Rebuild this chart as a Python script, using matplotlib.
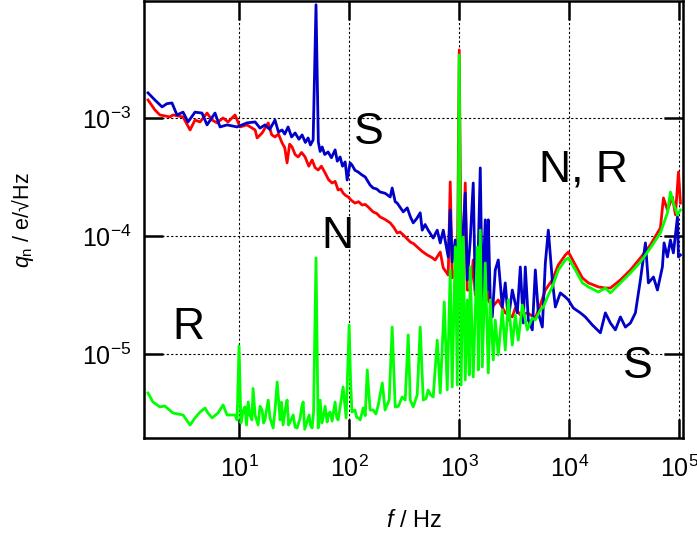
import matplotlib
matplotlib.use("Agg")
import matplotlib.pyplot as plt
from matplotlib import rcParams
from matplotlib.ticker import LogLocator, NullLocator

# S: blue trace
s_freq = [1.49, 1.72, 2.0, 2.21, 2.46, 2.73, 3.10, 3.44, 3.98, 4.61, 5.12, 6.05, 6.72, 7.78,
          9.6, 11.8, 14.0, 15.5, 17.2, 19.0, 21.2, 22.8, 24.6, 26.0, 27.9, 30.0, 32.3, 35.0,
          37.4, 40.0, 42.4, 44.5, 47.1, 50, 52.5, 54.5, 56.9, 60.0, 64.4, 69.0, 74.6, 78.0,
          82.8, 87.0, 92, 95.9, 102, 106, 113, 121, 130, 140, 155, 165, 178, 191, 212, 236,
          246, 262, 273, 290, 310, 337, 360, 382, 410, 442, 461, 490, 522, 580, 631, 672,
          716, 794, 828, 863, 920, 960, 1000, 1021, 1087, 1134, 1183, 1259, 1340, 1397,
          1489, 1552, 1620, 1723, 1798, 1836, 1914, 1995, 2124, 2262, 2460, 2618, 2787,
          3033, 3367, 3586, 3817, 3981, 4240, 4610, 4910, 5224, 5683, 6053, 6442, 7000,
          7462, 8280, 9200, 9795, 10870, 12590, 13970, 16180, 19140, 21240, 23590, 26180,
          29090, 32280, 35890, 39810, 44190, 49090, 52240, 58080, 63100, 70000, 72500,
          77800, 82800, 88100, 95900, 97950, 102100]
s_q = [1.63e-3, 1.42e-3, 1.24e-3, 1.32e-3, 1.34e-3, 1.06e-3, 1.12e-3, 9.25e-4, 1.12e-3,
       1.10e-3, 8.73e-4, 1.10e-3, 8.39e-4, 8.73e-4, 8.39e-4, 9.08e-4, 9.25e-4, 8.2e-4,
       8.73e-4, 8.0e-4, 9.6e-4, 7.6e-4, 7.91e-4, 7.3e-4, 8.39e-4, 6.9e-4, 7.46e-4, 6.6e-4,
       7.18e-4, 6.2e-4, 6.77e-4, 5.9e-4, 6.52e-4, 9.1e-3, 6.26e-4, 5.2e-4, 5.68e-4,
       4.9e-4, 5.15e-4, 4.6e-4, 5.36e-4, 4.3e-4, 4.67e-4, 3.9e-4, 4.24e-4, 2.98e-4,
       4.16e-4, 4.0e-4, 3.6e-4, 3.48e-4, 3.3e-4, 3.16e-4, 2.70e-4, 2.55e-4, 2.5e-4,
       2.36e-4, 2.3e-4, 2.14e-4, 2.55e-4, 1.95e-4, 1.90e-4, 1.75e-4, 1.60e-4, 1.73e-4,
       1.45e-4, 1.29e-4, 1.40e-4, 1.57e-4, 1.12e-4, 1.25e-4, 1.12e-4, 9.6e-5, 1.12e-4,
       8.73e-5, 1.12e-4, 6.64e-5, 1.66e-4, 6.02e-5, 9.25e-5, 4.24e-5, 7.6e-5, 3.48e-5,
       1.12e-4, 2.31e-4, 4.24e-5, 9.25e-5, 2.81e-4, 3.48e-5, 7.6e-5, 3.77e-4, 2.87e-5,
       1.37e-4, 3.48e-5, 1.37e-4, 2.87e-5, 2.06e-5, 5.15e-5, 6.26e-5, 2.50e-5, 4.0e-5,
       1.94e-5, 3.48e-5, 2.23e-5, 5.46e-5, 1.83e-5, 5.46e-5, 1.94e-5, 1.60e-5, 5.15e-5,
       2.23e-5, 1.69e-5, 5.90e-5, 1.12e-4, 4.24e-5, 2.50e-5, 3.29e-5, 3.04e-5, 2.87e-5,
       2.45e-5, 2.23e-5, 2.06e-5, 1.76e-5, 1.51e-5, 2.23e-5, 1.83e-5, 1.60e-5, 2.06e-5,
       1.69e-5, 1.83e-5, 2.23e-5, 4.24e-5, 8.73e-5, 4.0e-5, 4.49e-5, 3.48e-5, 5.46e-5,
       8.73e-5, 6.64e-5, 9.25e-5, 7.18e-5, 1.45e-4, 6.64e-5, 6.9e-5]

# N: red trace
n_freq = [1.49, 1.72, 1.91, 2.36, 2.51, 3.10, 3.59, 3.98, 4.42, 5.12, 5.69, 6.31, 7.16,
          7.94, 9.2, 10.2, 11.8, 14.0, 14.6, 16.2, 18.4, 19.8, 21.2, 22.8, 24.6, 26.0,
          27.3, 28.8, 30.3, 32.3, 34.4, 37.0, 39.8, 43.0, 46.1, 49.0, 52.3, 56.0, 60.5,
          65.0, 70, 74.6, 79.4, 84.0, 88.1, 93.0, 98, 105, 113, 122, 131, 140, 149, 165,
          178, 191, 212, 236, 255, 273, 290, 310, 335, 359, 385, 415, 460, 512, 560, 605,
          672, 716, 794, 828, 863, 920, 960, 1000, 1045, 1087, 1134, 1183, 1259, 1340,
          1397, 1552, 1652, 1723, 1836, 1995, 2262, 2618, 3033, 3228, 3586, 4150, 4910,
          5445, 6053, 7000, 7943, 9200, 9795, 11340, 13130, 14890, 18360, 21240, 23590,
          29090, 35890, 44190, 54450, 67170, 71580, 77800, 86300, 92000, 97950, 102100]
n_q = [1.42e-3, 1.17e-3, 1.06e-3, 1.02e-3, 1.06e-3, 1.02e-3, 7.91e-4, 9.6e-4, 9.25e-4,
       1.10e-3, 9.6e-4, 9.08e-4, 1.0e-3, 9.25e-4, 1.06e-3, 8.39e-4, 8.73e-4, 7.91e-4,
       6.77e-4, 7.46e-4, 9.08e-4, 7.2e-4, 6.90e-4, 7.3e-4, 6.14e-4, 5.6e-4, 4.16e-4,
       6.0e-4, 5.68e-4, 4.9e-4, 4.67e-4, 5.1e-4, 4.67e-4, 3.9e-4, 4.41e-4, 3.8e-4,
       3.62e-4, 3.9e-4, 3.42e-4, 3.0e-4, 2.81e-4, 2.9e-4, 2.45e-4, 2.5e-4, 2.31e-4,
       2.2e-4, 2.14e-4, 2.0e-4, 1.90e-4, 1.95e-4, 1.83e-4, 1.85e-4, 1.76e-4, 1.60e-4,
       1.55e-4, 1.45e-4, 1.38e-4, 1.29e-4, 1.18e-4, 1.06e-4, 1.08e-4, 1.02e-4, 9.5e-5,
       8.89e-5, 8.6e-5, 8.07e-5, 7.4e-5, 6.90e-5, 6.6e-5, 6.26e-5, 7.31e-5, 5.36e-5,
       4.67e-5, 2.87e-4, 4.41e-5, 5.15e-5, 3.85e-5, 3.77e-3, 3.85e-5, 7.6e-5, 2.81e-4,
       3.48e-5, 3.48e-5, 6.26e-5, 3.16e-5, 3.04e-5, 5.68e-5, 5.15e-5, 2.87e-5, 2.50e-5,
       2.87e-5, 2.23e-5, 2.06e-5, 2.45e-5, 2.14e-5, 2.23e-5, 2.02e-5, 2.60e-5, 3.48e-5,
       4.24e-5, 5.68e-5, 6.90e-5, 7.31e-5, 5.68e-5, 4.41e-5, 4.0e-5, 3.70e-5, 3.62e-5,
       3.62e-5, 4.24e-5, 5.15e-5, 6.51e-5, 8.39e-5, 1.17e-4, 2.10e-4, 1.66e-4, 2.14e-4,
       1.51e-4, 3.48e-4, 1.90e-4]

# R: green trace
r_freq = [1.49, 1.65, 1.91, 2.12, 2.51, 3.10, 3.59, 3.98, 4.42, 4.91, 5.22, 5.69, 6.44,
          7.16, 7.78, 9.2, 9.6, 10, 10.4, 10.9, 11.3, 11.7, 12.1, 12.6, 13.1, 13.4, 14.0,
          14.9, 15.5, 16.2, 16.7, 17.2, 18.4, 19.1, 20.4, 21.2, 22.2, 23.6, 24.3, 25.1,
          26.2, 27.3, 28.2, 29.1, 31.0, 32.3, 33.7, 35.9, 37.0, 38.2, 39.5, 40.6, 43.3,
          44.5, 46.1, 47.5, 50, 52.3, 54.5, 56.5, 58.1, 60.5, 63.1, 65.0, 67.2, 70.0,
          74.6, 77.0, 79.4, 83.0, 88.1, 93.9, 100, 103, 106, 113, 117, 121, 126, 134, 140,
          146, 155, 165, 175, 184, 200, 212, 231, 246, 262, 280, 303, 323, 344, 359, 382,
          415, 442, 471, 500, 522, 550, 580, 631, 672, 731, 778, 828, 863, 920, 960, 1000,
          1040, 1087, 1134, 1183, 1233, 1259, 1340, 1458, 1489, 1552, 1620, 1723, 1836,
          1914, 2037, 2124, 2262, 2460, 2618, 2787, 3033, 3228, 3436, 3741, 4150, 4610,
          4910, 5445, 5808, 6442, 7000, 7943, 9200, 9795, 11340, 13130, 14890, 18360,
          21240, 23590, 29090, 35890, 44190, 54450, 67170, 77800, 82800, 88100, 95900,
          102100]
r_q = [4.67e-6, 3.92e-6, 3.56e-6, 3.62e-6, 3.16e-6, 3.04e-6, 2.50e-6, 2.87e-6, 3.22e-6,
       3.48e-6, 3.16e-6, 2.87e-6, 3.16e-6, 3.70e-6, 3.04e-6, 3.04e-6, 2.76e-6, 1.17e-5,
       2.60e-6, 3.3e-6, 3.56e-6, 2.5e-6, 3.92e-6, 3.0e-6, 2.76e-6, 5.1e-6, 3.04e-6,
       2.50e-6, 3.6e-6, 3.35e-6, 2.6e-6, 2.76e-6, 4.07e-6, 2.87e-6, 2.36e-6, 3.3e-6,
       5.79e-6, 2.76e-6, 3.9e-6, 2.50e-6, 3.3e-6, 4.07e-6, 2.5e-6, 2.65e-6, 3.04e-6,
       2.4e-6, 2.36e-6, 2.87e-6, 3.5e-6, 3.92e-6, 2.3e-6, 2.50e-6, 3.04e-6, 2.5e-6,
       2.36e-6, 3.2e-6, 6.51e-5, 2.36e-6, 4.07e-6, 2.6e-6, 2.87e-6, 3.6e-6, 2.65e-6,
       3.1e-6, 3.22e-6, 2.7e-6, 3.92e-6, 2.9e-6, 2.76e-6, 3.6e-6, 5.25e-6, 2.87e-6,
       1.76e-5, 6.02e-6, 3.22e-6, 3.35e-6, 2.9e-6, 2.87e-6, 2.76e-6, 3.48e-6, 3.0e-6,
       7.31e-6, 3.35e-6, 3.35e-6, 3.1e-6, 3.70e-6, 5.68e-6, 3.35e-6, 4.07e-6, 1.69e-5,
       3.56e-6, 3.6e-6, 4.32e-6, 4.07e-6, 1.45e-5, 4.07e-6, 3.56e-6, 4.49e-6, 1.69e-5,
       4.07e-6, 4.2e-6, 4.95e-6, 4.5e-6, 4.32e-6, 1.31e-5, 4.67e-6, 2.76e-5, 4.95e-6,
       5.15e-5, 5.25e-6, 8.07e-5, 5.46e-6, 3.42e-3, 5.46e-6, 9.8e-5, 6.02e-6, 2.87e-5,
       6.64e-6, 5.46e-5, 6.38e-6, 8.07e-5, 7.31e-6, 1.12e-4, 7.76e-6, 5.90e-5, 6.90e-6,
       2.87e-5, 8.89e-6, 1.94e-5, 9.8e-6, 2.36e-5, 1.08e-5, 2.87e-5, 1.19e-5, 2.14e-5,
       1.31e-5, 2.60e-5, 1.60e-5, 2.02e-5, 1.94e-5, 2.36e-5, 2.50e-5, 3.16e-5, 3.70e-5,
       5.15e-5, 6.26e-5, 6.51e-5, 5.15e-5, 4.0e-5, 3.70e-5, 3.35e-5, 3.62e-5, 3.29e-5,
       4.0e-5, 4.86e-5, 6.02e-5, 7.91e-5, 1.06e-4, 1.57e-4, 2.36e-4, 1.90e-4, 1.51e-4,
       1.66e-4]

rcParams['font.family'] = ['Liberation Sans', 'DejaVu Sans']
rcParams['mathtext.fontset'] = 'custom'
rcParams['mathtext.rm'] = 'Liberation Sans'
rcParams['mathtext.it'] = 'Liberation Sans:italic'

fig = plt.figure(figsize=(6.97, 5.35), dpi=100)
ax = fig.add_axes([0.2066, 0.1813, 0.7733, 0.8159])

ax.plot(n_freq, n_q, color='#ff0000', lw=2.0)
ax.plot(s_freq, s_q, color='#0000c8', lw=2.0)
ax.plot(r_freq, r_q, color='#00ff00', lw=2.0)

ax.set_xscale('log')
ax.set_yscale('log')
ax.set_xlim(1.37, 1.077e5)
ax.set_ylim(1.94e-6, 9.7e-3)
ax.xaxis.set_major_locator(LogLocator(base=10, numticks=10))
ax.yaxis.set_major_locator(LogLocator(base=10, numticks=10))
ax.xaxis.set_minor_locator(NullLocator())
ax.yaxis.set_minor_locator(NullLocator())

ax.grid(True, which='major', color='black', lw=0.8, linestyle=(0, (2, 2)))
for sp in ax.spines.values():
    sp.set_linewidth(1.8)
ax.tick_params(which='major', direction='in', length=13.5, width=1.8,
               top=True, right=True, labelsize=18)
ax.tick_params(axis='x', pad=13)
ax.tick_params(axis='y', pad=9)

ax.set_xlabel(r'$f$ / Hz', fontsize=17)
ax.xaxis.set_label_coords(0.5, -0.165)
ax.set_ylabel(r'$q_{\mathrm{n}}$ / e/√Hz', fontsize=15.5)
ax.yaxis.set_label_coords(-0.2, 0.5)

# series labels
ax.text(152, 7.6e-4, 'S', fontsize=32, ha='center', va='center')
ax.text(77.8, 9.8e-5, 'N', fontsize=32, ha='center', va='center')
ax.text(1.34e4, 3.62e-4, 'N, R', fontsize=32, ha='center', va='center')
ax.text(3.44, 1.66e-5, 'R', fontsize=32, ha='center', va='center')
ax.text(4.15e4, 7.9e-6, 'S', fontsize=32, ha='center', va='center')

fig.savefig('out.png', dpi=100)
